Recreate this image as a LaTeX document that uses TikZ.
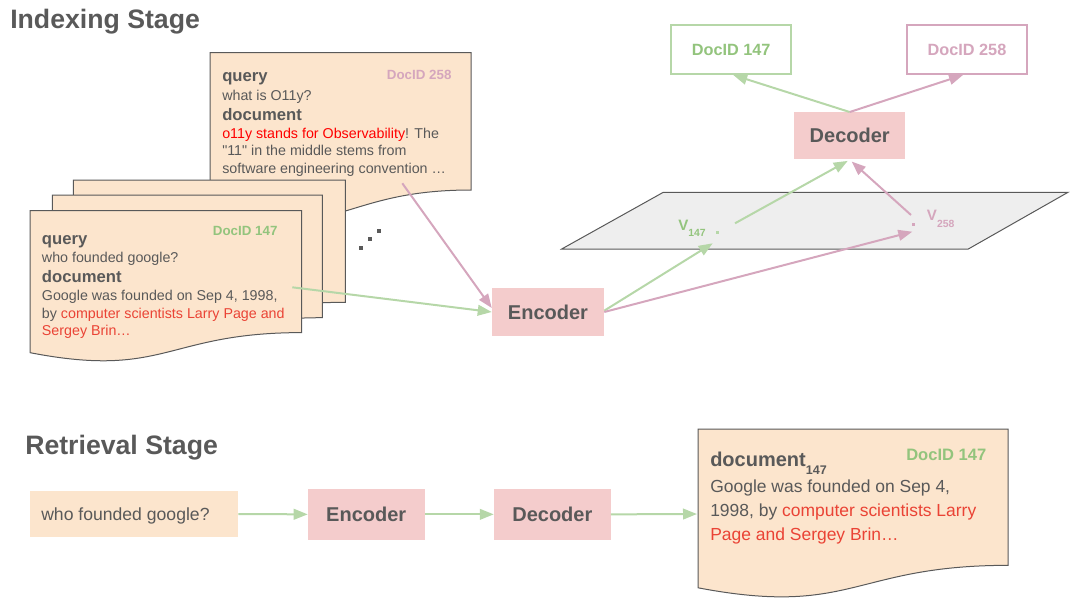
\documentclass[tikz,border=0pt]{standalone}
\usepackage{fontspec}
\setmainfont{Liberation Sans}
\usetikzlibrary{arrows.meta}
\definecolor{cardfill}{HTML}{FCE5CD}
\definecolor{boxfill}{HTML}{F4CCCC}
\definecolor{gline}{HTML}{B6D7A8}
\definecolor{gtext}{HTML}{93C47D}
\definecolor{pline}{HTML}{D5A6BD}
\definecolor{ptext}{HTML}{D5A6BD}
\definecolor{dtext}{HTML}{595959}
\definecolor{redA}{HTML}{FF0000}
\definecolor{redB}{HTML}{EA4335}
\definecolor{planefill}{HTML}{EEEEEE}
\newcommand{\strq}{\XeTeXglyph\XeTeXcharglyph"22\relax}
\newcommand{\docshape}[4]{%
  \draw[card] (#1,#2) -- ({#1+#3},#2) -- ({#1+#3},{#2+0.802*#4})
    .. controls ({#1+0.5*#3},{#2+0.802*#4}) and ({#1+0.5*#3},{#2+1.1075*#4}) ..
    (#1,{#2+0.934*#4}) -- cycle;}
\tikzset{
  card/.style={fill=cardfill, draw=dtext, line width=0.75pt},
  body/.style={anchor=base west, inner sep=0, text=dtext, font=\fontsize{10.7}{13}\selectfont},
  lab/.style={anchor=base west, inner sep=0, text=dtext, font=\fontsize{12.5}{15}\selectfont\bfseries},
  cid/.style={anchor=base west, inner sep=0, font=\fontsize{10}{12}\selectfont\bfseries},
  rbody/.style={anchor=base west, inner sep=0, text=dtext, font=\fontsize{13.1}{16}\selectfont},
  title/.style={anchor=base west, inner sep=0, text=dtext, font=\fontsize{20}{24}\selectfont\bfseries},
  box/.style={fill=boxfill, draw=none, text=dtext, font=\fontsize{15}{18}\selectfont\bfseries, inner sep=0},
  idbox/.style={draw, line width=1.5pt, fill=white, inner sep=0, minimum height=36.75pt, font=\fontsize{12.2}{15}\selectfont\bfseries},
  garrow/.style={draw=gline, line width=1.5pt, -{Triangle[length=10.5pt,width=8pt]}},
  parrow/.style={draw=pline, line width=1.5pt, -{Triangle[length=10.5pt,width=8pt]}},
  dotsq/.style={inner sep=0, minimum size=2.6pt, draw=none},
}
\begin{document}
\begin{tikzpicture}[x=0.75pt,y=-0.75pt]
\useasboundingbox (0,0) rectangle (1070,599);

% titles
\node[title] (tIdx) at (10,28.3) {Indexing Stage};
\node[title] (tRet) at (25,454) {Retrieval Stage};

% cards (indexing)
\docshape{210}{52.7}{261}{171.2}
\docshape{73.3}{180}{272}{152.5}
\docshape{52.3}{195}{270}{153}
\docshape{30}{210.7}{271.7}{152}

% card 258 text
\node[lab] (c2q) at (222,81.5) {query};
\node[cid, text=ptext] (c2id) at (386.7,79.3) {DocID 258};
\node[body] (c2l1) at (222,100.7) {what is O11y?};
\node[lab] (c2d) at (222,120.7) {document};
\node[body] (c2l2) at (222,138.3) {{\color{redA}o11y stands for Observability}! The};
\node[body] (c2l3) at (222,155.3) {\strq 11\strq{} in the middle stems from};
\node[body] (c2l4) at (222,173.3) {software engineering convention …};

% card 147 text
\node[lab] (c1q) at (41.7,244.3) {query};
\node[cid, text=gtext] (c1id) at (212.7,235.7) {DocID 147};
\node[body] (c1l1) at (41.7,262.3) {who founded google?};
\node[lab] (c1d) at (41.7,282.7) {document};
\node[body] (c1l2) at (41.7,300.3) {Google was founded on Sep 4, 1998,};
\node[body] (c1l3) at (41.7,318.3) {by {\color{redB}computer scientists Larry Page and}};
\node[body] (c1l4) at (41.7,335) {{\color{redB}Sergey Brin…}};

% ellipsis dots
\node[dotsq, fill=dtext, minimum size=3pt] (e1) at (361,247.7) {};
\node[dotsq, fill=dtext, minimum size=3pt] (e2) at (370,238.7) {};
\node[dotsq, fill=dtext, minimum size=3pt] (e3) at (379,231) {};

% plane
\draw[fill=planefill, draw=dtext, line width=0.75pt] (663.3,192.3) -- (1068,192.3) -- (968.3,249) -- (561.7,249) -- cycle;
\node[dotsq, fill=gline] (v147) at (717.7,232.7) {};
\node[dotsq, fill=pline] (v258) at (913.7,224.3) {};
\node[anchor=base west, inner sep=0, text=gtext, font=\fontsize{11.3}{13}\selectfont\bfseries] (lv147) at (678,230) {V\raisebox{-4.5pt}{\fontsize{7.8}{9}\selectfont 147}};
\node[anchor=base west, inner sep=0, text=ptext, font=\fontsize{11.3}{13}\selectfont\bfseries] (lv258) at (926.7,220) {V\raisebox{-5.5pt}{\fontsize{7.8}{9}\selectfont 258}};

% encoder / decoder (indexing)
\node[box, minimum width=84pt, minimum height=35.5pt] (enc1) at (548,312) {Encoder};
\node[box, minimum width=83pt, minimum height=35.25pt] (dec1) at (849.7,135.8) {Decoder};
\node[idbox, draw=gline, text=gtext, minimum width=90pt] (id147) at (731.2,49.5) {DocID 147};
\node[idbox, draw=pline, text=ptext, minimum width=89.5pt] (id258) at (967,49.5) {DocID 258};

% connector coordinates
\coordinate (s258) at (402.3,183.3);
\coordinate (s147) at (292.3,287.3);
\coordinate (g147in) at (712.7,243.3);
\coordinate (p258in) at (912.3,231.7);
\coordinate (g147out) at (735,223.3);
\coordinate (p258out) at (911,215);

% indexing arrows
\draw[parrow] (s258) -- ([yshift=3pt]enc1.west);
\draw[garrow] (s147) -- (enc1.west);
\draw[garrow] ([yshift=1pt]enc1.east) -- (g147in);
\draw[parrow] (enc1.east) -- (p258in);
\draw[garrow] (g147out) -- ([xshift=-1.5pt,yshift=-1pt]dec1.south);
\draw[parrow] (p258out) -- ([xshift=1.5pt,yshift=-1.5pt]dec1.south);
\draw[garrow] (dec1.north) -- ([xshift=1.5pt]id147.south);
\draw[parrow] (dec1.north) -- ([xshift=-3pt]id258.south);

% retrieval row
\node[fill=cardfill, inner sep=0, minimum width=156pt, minimum height=34.5pt] (qbox) at (134,514) {};
\node[anchor=base west, inner sep=0, text=dtext, font=\fontsize{13.2}{16}\selectfont] (qtext) at (41,520.7) {who founded google?};
\node[box, minimum width=87.4pt, minimum height=38pt] (enc2) at (366.25,514.35) {Encoder};
\node[box, minimum width=87.5pt, minimum height=38pt] (dec2) at (552.35,514.35) {Decoder};

% result card
\docshape{698}{429}{310}{170}
\coordinate (rin) at (697,514);
\node[anchor=base west, inner sep=0, text=dtext, font=\fontsize{15}{18}\selectfont\bfseries] (rdoc) at (710,466.7) {document\raisebox{-6.2pt}{\fontsize{9.4}{11}\selectfont 147}};
\node[anchor=base west, inner sep=0, text=gtext, font=\fontsize{12.4}{15}\selectfont\bfseries] (rid) at (906,460.7) {DocID 147};
\node[rbody] (r1) at (710,492.7) {Google was founded on Sep 4,};
\node[rbody] (r2) at (710,516.7) {1998, by {\color{redB}computer scientists Larry}};
\node[rbody] (r3) at (710,540) {{\color{redB}Page and Sergey Brin…}};

\draw[garrow] (qbox.east) -- (enc2.west);
\draw[garrow] (enc2.east) -- (dec2.west);
\draw[garrow] (dec2.east) -- (rin);
\end{tikzpicture}
\end{document}
